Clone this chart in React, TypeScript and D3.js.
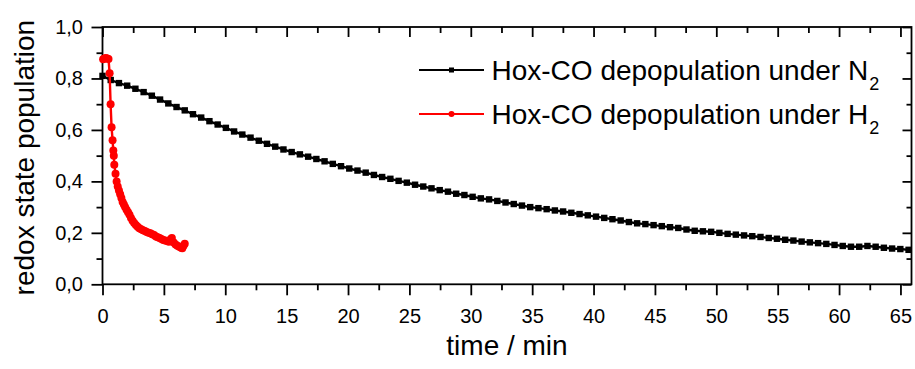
import React, { useEffect, useRef } from 'react';
import * as d3 from 'd3';

// Hox-CO depopulation under N2 (sampled every ~0.67 min)
const n2Values = [
  0.810, 0.794, 0.782, 0.772, 0.760, 0.747, 0.733, 0.718, 0.703, 0.689,
  0.676, 0.661, 0.648, 0.634, 0.621, 0.608, 0.594, 0.582, 0.570, 0.558,
  0.546, 0.535, 0.524, 0.514, 0.505, 0.496, 0.487, 0.478, 0.468, 0.459,
  0.450, 0.442, 0.434, 0.425, 0.417, 0.410, 0.402, 0.395, 0.387, 0.380,
  0.373, 0.366, 0.360, 0.352, 0.347, 0.340, 0.334, 0.330, 0.324, 0.318,
  0.312, 0.306, 0.300, 0.296, 0.292, 0.287, 0.283, 0.278, 0.273, 0.268,
  0.263, 0.258, 0.253, 0.248, 0.242, 0.237, 0.234, 0.230, 0.226, 0.222,
  0.219, 0.213, 0.208, 0.206, 0.204, 0.200, 0.196, 0.193, 0.190, 0.187,
  0.184, 0.180, 0.177, 0.173, 0.170, 0.166, 0.163, 0.160, 0.157, 0.153,
  0.149, 0.146, 0.146, 0.149, 0.146, 0.142, 0.139, 0.137, 0.134,
];
const N2_STEP = 0.67;

// Hox-CO depopulation under H2
const h2Times = [
  0.05, 0.16, 0.27, 0.38, 0.49, 0.58, 0.66, 0.74, 0.82, 0.88,
  0.92, 0.96, 1.06, 1.15, 1.24, 1.34, 1.44, 1.54, 1.64, 1.74,
  1.84, 1.96, 2.08, 2.2, 2.32, 2.45, 2.58, 2.72, 2.86, 3.0,
  3.15, 3.3, 3.45, 3.6, 3.75, 3.9, 4.05, 4.2, 4.35, 4.5,
  4.65, 4.8, 4.95, 5.1, 5.25, 5.4, 5.55, 5.65, 5.8, 5.95,
  6.1, 6.25, 6.4, 6.5, 6.6, 6.7,
];
const h2Values = [
  0.875, 0.878, 0.880, 0.878, 0.876, 0.82, 0.70, 0.61, 0.56, 0.52,
  0.50, 0.465, 0.43, 0.40, 0.38, 0.365, 0.35, 0.335, 0.32, 0.31,
  0.30, 0.29, 0.28, 0.27, 0.258, 0.247, 0.238, 0.23, 0.224, 0.218,
  0.214, 0.21, 0.207, 0.203, 0.2, 0.198, 0.195, 0.192, 0.186, 0.183,
  0.18, 0.176, 0.172, 0.17, 0.168, 0.165, 0.175, 0.18, 0.162, 0.155,
  0.15, 0.146, 0.142, 0.14, 0.15, 0.158,
];

const xTicks = [0, 5, 10, 15, 20, 25, 30, 35, 40, 45, 50, 55, 60, 65];
const yTicks = [0, 0.2, 0.4, 0.6, 0.8, 1.0];
const yTickLabels = ['0,0', '0,2', '0,4', '0,6', '0,8', '1,0'];

const WIDTH = 915;
const HEIGHT = 369;
const FONT = '"Liberation Sans", Arial, sans-serif';

const Chart: React.FC = () => {
  const ref = useRef<SVGSVGElement>(null);

  useEffect(() => {
    if (!ref.current) return;
    const svg = d3.select(ref.current);
    svg.selectAll('*').remove();

    const left = 102.5, right = 911.5, top = 27, bottom = 284.3;
    const x = d3.scaleLinear().domain([0, 65.9]).range([left, right]);
    const y = d3.scaleLinear().domain([0, 1]).range([bottom, top]);

    const xMinor = d3.range(2.5, 66, 5);
    const yMinor = d3.range(0.1, 1, 0.2);

    const styleAxis = (g: any) => {
      g.select('.domain').remove();
      g.selectAll('line').attr('stroke', '#000').attr('stroke-width', 1.8);
      g.selectAll('text')
        .attr('font-family', FONT)
        .attr('font-size', 20)
        .attr('fill', '#000');
    };

    // bottom axis, ticks outward
    svg.append('g')
      .attr('transform', `translate(0,${bottom})`)
      .call(d3.axisBottom(x).tickValues(xTicks).tickSize(11).tickPadding(14).tickFormat(d3.format('d') as any))
      .call(styleAxis);
    svg.append('g')
      .attr('transform', `translate(0,${bottom})`)
      .call(d3.axisBottom(x).tickValues(xMinor).tickSize(6).tickFormat(() => ''))
      .call(styleAxis);

    // left axis, ticks outward
    svg.append('g')
      .attr('transform', `translate(${left},0)`)
      .call(d3.axisLeft(y).tickValues(yTicks).tickSize(11).tickPadding(8.5)
        .tickFormat((_d, i) => yTickLabels[i]))
      .call(styleAxis);
    svg.append('g')
      .attr('transform', `translate(${left},0)`)
      .call(d3.axisLeft(y).tickValues(yMinor).tickSize(6).tickFormat(() => ''))
      .call(styleAxis);

    // top and right mirror axes, ticks inward
    svg.append('g')
      .attr('transform', `translate(0,${top})`)
      .call(d3.axisTop(x).tickValues(xTicks).tickSize(-10).tickFormat(() => ''))
      .call(styleAxis);
    svg.append('g')
      .attr('transform', `translate(0,${top})`)
      .call(d3.axisTop(x).tickValues(xMinor).tickSize(-6).tickFormat(() => ''))
      .call(styleAxis);
    svg.append('g')
      .attr('transform', `translate(${right},0)`)
      .call(d3.axisRight(y).tickValues(yTicks).tickSize(-9).tickFormat(() => ''))
      .call(styleAxis);
    svg.append('g')
      .attr('transform', `translate(${right},0)`)
      .call(d3.axisRight(y).tickValues(yMinor).tickSize(-5).tickFormat(() => ''))
      .call(styleAxis);

    // frame
    svg.append('rect')
      .attr('x', left).attr('y', top)
      .attr('width', right - left).attr('height', bottom - top)
      .attr('fill', 'none').attr('stroke', '#000').attr('stroke-width', 1.8);

    // N2 series
    const n2 = n2Values.map((v, i) => [i * N2_STEP, v] as [number, number]);
    const line = d3.line<[number, number]>().x(d => x(d[0])).y(d => y(d[1]));
    svg.append('path')
      .attr('d', line(n2)!)
      .attr('fill', 'none').attr('stroke', '#000').attr('stroke-width', 2.4);
    svg.append('g').selectAll('rect').data(n2).enter().append('rect')
      .attr('x', d => x(d[0]) - 3.2).attr('y', d => y(d[1]) - 3.2)
      .attr('width', 6.4).attr('height', 6.4).attr('fill', '#000');

    // H2 series
    const h2 = h2Times.map((t, i) => [t, h2Values[i]] as [number, number]);
    svg.append('path')
      .attr('d', line(h2)!)
      .attr('fill', 'none').attr('stroke', '#ff0000').attr('stroke-width', 2.4);
    svg.append('g').selectAll('circle').data(h2).enter().append('circle')
      .attr('cx', d => x(d[0])).attr('cy', d => y(d[1]))
      .attr('r', 4).attr('fill', '#ff0000');

    // legend
    const legend = [
      { color: '#000', sym: 'square', label: 'Hox-CO depopulation under N', y: 70 },
      { color: '#ff0000', sym: 'circle', label: 'Hox-CO depopulation under H', y: 114 },
    ];
    legend.forEach(l => {
      svg.append('line')
        .attr('x1', 419).attr('x2', 484).attr('y1', l.y).attr('y2', l.y)
        .attr('stroke', l.color).attr('stroke-width', 2.2);
      if (l.sym === 'square') {
        svg.append('rect').attr('x', 449).attr('y', l.y - 2.5)
          .attr('width', 5).attr('height', 5).attr('fill', l.color);
      } else {
        svg.append('circle').attr('cx', 451.5).attr('cy', l.y).attr('r', 3).attr('fill', l.color);
      }
      const t = svg.append('text')
        .attr('x', 491.5).attr('y', l.y + 9.5)
        .attr('font-family', FONT).attr('font-size', 28).attr('fill', '#000');
      t.append('tspan').text(l.label);
      t.append('tspan').attr('font-size', 18).attr('dy', 10).attr('dx', 1).text('2');
    });

    // axis titles
    svg.append('text')
      .attr('x', (left + right) / 2).attr('y', 355)
      .attr('text-anchor', 'middle')
      .attr('font-family', FONT).attr('font-size', 28).attr('fill', '#000')
      .text('time / min');
    svg.append('text')
      .attr('transform', `translate(33.5,${(top + bottom) / 2 + 2}) rotate(-90)`)
      .attr('text-anchor', 'middle')
      .attr('font-family', FONT).attr('font-size', 28).attr('fill', '#000')
      .text('redox state population');
  }, []);

  return (
    <svg
      ref={ref}
      width={WIDTH}
      height={HEIGHT}
      style={{ position: 'absolute', left: 0, top: 0, display: 'block', background: '#fff' }}
    />
  );
};

export default function App() {
  return <Chart />;
}
